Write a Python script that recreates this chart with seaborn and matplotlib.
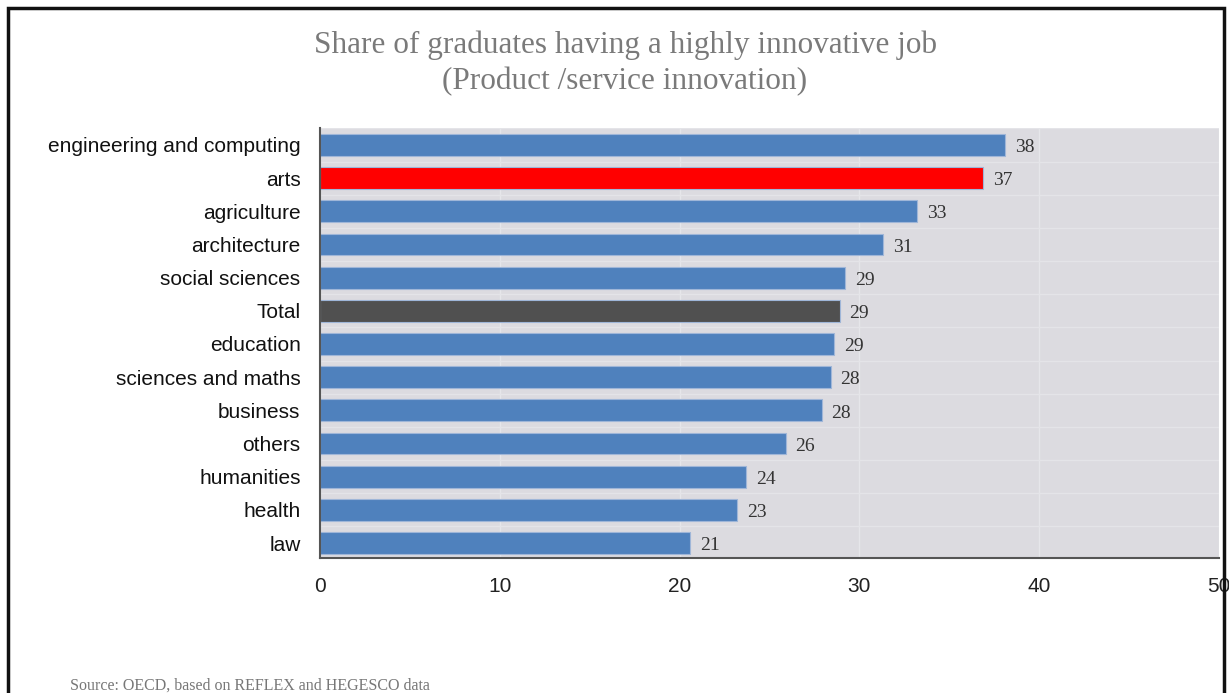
import matplotlib
matplotlib.use("Agg")
import matplotlib.pyplot as plt
import seaborn as sns
import pandas as pd
import numpy as np
from matplotlib.patches import Rectangle

categories = ["engineering and computing", "arts", "agriculture", "architecture",
              "social sciences", "Total", "education", "sciences and maths",
              "business", "others", "humanities", "health", "law"]
values = [38.1, 36.9, 33.2, 31.3, 29.2, 28.9, 28.6, 28.4, 27.9, 25.9, 23.7, 23.2, 20.6]
labels = ["38", "37", "33", "31", "29", "29", "29", "28", "28", "26", "24", "23", "21"]
group = ["field", "highlight", "field", "field", "field", "total", "field", "field",
         "field", "field", "field", "field", "field"]
xticks = [0, 10, 20, 30, 40, 50]

colors = {"field": "#4f81bd", "highlight": "#ff0000", "total": "#505050"}

sns.set_theme(style="white")
plt.rcParams["font.family"] = ["Liberation Sans", "DejaVu Sans"]

df = pd.DataFrame({"category": categories, "value": values, "group": group})

fig = plt.figure(figsize=(12.29, 6.93), dpi=100)
ax = fig.add_axes([320/1229, 1-558/693, (1219-320)/1229, (558-128)/693])
ax.set_facecolor("#dcdbe0")

sns.barplot(data=df, y="category", x="value", hue="group", palette=colors,
            order=categories, orient="h", width=0.66, dodge=False, legend=False,
            saturation=1, linewidth=0.8, edgecolor="#9fb6d8", ax=ax)

for i, (v, lab) in enumerate(zip(values, labels)):
    ax.text(v + 0.55, i + 0.08, lab, va="center", ha="left",
            fontsize=14, family=["Liberation Serif", "DejaVu Serif"], color="#333333")

ax.set_xlim(0, 50)
ax.set_ylim(len(categories) - 0.55, -0.51)
ax.set_xticks(xticks)
ax.set_xticklabels([str(t) for t in xticks], fontsize=15, color="#222222")
ax.set_yticks(range(len(categories)))
ax.set_yticklabels(categories, fontsize=15, color="#111111")
ax.set_yticks(np.arange(-0.5, len(categories) - 0.5, 1), minor=True)
ax.tick_params(axis="y", which="major", length=0, pad=14)
ax.tick_params(axis="y", which="minor", length=6, direction="in", color="#444444", width=1.2)
ax.tick_params(axis="x", which="major", length=6, direction="in", color="#444444",
               width=1.2, pad=14)
ax.set_xlabel("")
ax.set_ylabel("")
ax.set_axisbelow(True)
ax.grid(axis="x", color="#e6e6ea", linewidth=1.0)
ax.grid(axis="y", which="minor", color="#e4e4e8", linewidth=1.0)
for s in ["top", "right"]:
    ax.spines[s].set_visible(False)
for s in ["left", "bottom"]:
    ax.spines[s].set_color("#555555")
    ax.spines[s].set_linewidth(1.5)

fig.text(625/1229, 1-45/693, "Share of graduates having a highly innovative job",
         ha="center", va="center", fontsize=22.5, color="#7a7a7a",
         family=["Liberation Serif", "DejaVu Serif"])
fig.text(625/1229, 1-82/693, "(Product /service innovation)",
         ha="center", va="center", fontsize=22.5, color="#7a7a7a",
         family=["Liberation Serif", "DejaVu Serif"])
fig.text(70/1229, 1-686/693, "Source: OECD, based on REFLEX and HEGESCO data",
         ha="left", va="center", fontsize=11.5, color="#777777",
         family=["Liberation Serif", "DejaVu Serif"])

fig.patches.append(Rectangle((8/1229, -0.05), (1224-8)/1229, 1.05 - 8/693,
                             transform=fig.transFigure, fill=False,
                             edgecolor="#111111", linewidth=2.5))

fig.savefig("out.png", dpi=100, facecolor="white")
